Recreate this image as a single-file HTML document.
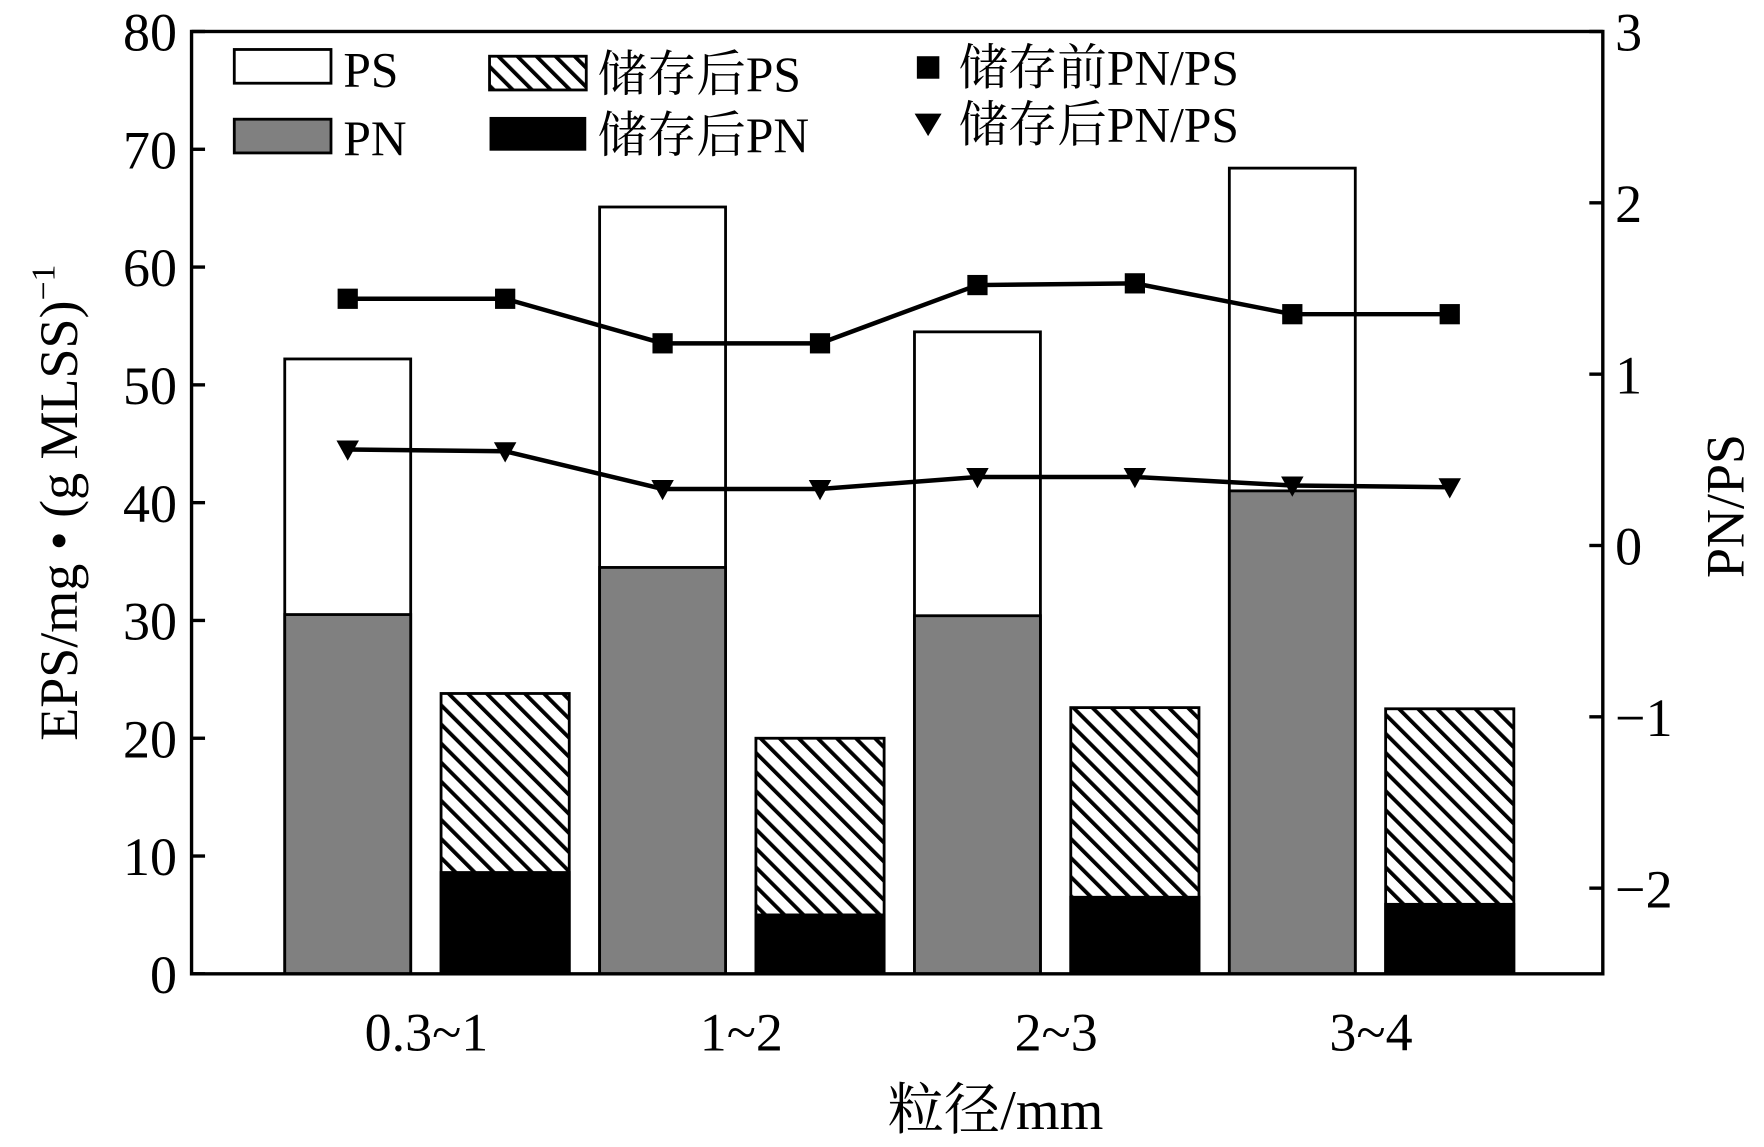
<!DOCTYPE html>
<html><head><meta charset="utf-8"><style>
html,body{margin:0;padding:0;background:#fff;}
svg{display:block;}
text{font-family:"Liberation Serif","Noto Serif CJK SC",serif;fill:#000;}
</style></head><body>
<svg id="chart" width="1764" height="1147" viewBox="0 0 1568 1020" xmlns="http://www.w3.org/2000/svg">
<defs>
<pattern id="hatch" patternUnits="userSpaceOnUse" width="12" height="12" patternTransform="rotate(-45)">
<rect width="12" height="12" fill="#fff"/><rect x="0" y="0" width="3.4" height="12" fill="#000"/>
</pattern>
</defs>
<g id="plot"></g>
</svg>
<script>
const categories = ["0.3~1","1~2","2~3","3~4"];
const psTotal = [52.2, 65.1, 54.5, 68.4];
const pnBefore = [30.5, 34.5, 30.4, 41.0];
const storedTotal = [23.8, 20.0, 22.6, 22.5];
const storedPN = [8.6, 5.0, 6.5, 5.9];
const ratioBefore = [1.44, 1.44, 1.18, 1.18, 1.52, 1.53, 1.35, 1.35];
const ratioAfter = [0.56, 0.55, 0.33, 0.33, 0.40, 0.40, 0.35, 0.34];
const leftTicks = [0,10,20,30,40,50,60,70,80];
const rightTicks = [-2,-1,0,1,2,3];

const NS="http://www.w3.org/2000/svg";
const g=document.getElementById('plot');
const L=170,R=1425,T=28,B=866;
const yL=v=>B-(v/80)*(B-T);
const yR=v=>B-((v+2.5)/5.5)*(B-T);
const cx=i=>L+(0.746+i)*280;
function el(t,a,p){const e=document.createElementNS(NS,t);for(const k in a)e.setAttribute(k,a[k]);(p||g).appendChild(e);return e;}

categories.forEach((c,i)=>{
  const x1=cx(i)-126,x2=cx(i)+13,w=112;
  let r=el('rect',{x:x1,y:yL(psTotal[i]),width:w,height:yL(0)-yL(psTotal[i]),fill:'#fff',stroke:'#000','stroke-width':2.5});
  
  
  r=el('rect',{x:x1,y:yL(pnBefore[i]),width:w,height:yL(0)-yL(pnBefore[i]),fill:'#808080',stroke:'#000','stroke-width':2.5});
  
  
  r=el('rect',{x:x2,y:yL(storedTotal[i]),width:w+2,height:yL(0)-yL(storedTotal[i]),fill:'url(#hatch)',stroke:'#000','stroke-width':2.5});
  
  
  r=el('rect',{x:x2,y:yL(storedPN[i]),width:w+2,height:yL(0)-yL(storedPN[i]),fill:'#000',stroke:'#000','stroke-width':2.5});
  
  
  const t=el('text',{x:cx(i),y:934,'font-size':48,'text-anchor':'middle'});t.textContent=c;
  
  
});
const px=j=>cx(Math.floor(j/2))-70+(j%2)*140;
let pl=el('polyline',{points:ratioBefore.map((v,j)=>px(j)+','+yR(v)).join(' '),fill:'none',stroke:'#000','stroke-width':4});


ratioBefore.forEach((v,j)=>{const m=el('rect',{x:px(j)-9,y:yR(v)-9,width:18,height:18,fill:'#000'});

});
pl=el('polyline',{points:ratioAfter.map((v,j)=>px(j)+','+yR(v)).join(' '),fill:'none',stroke:'#000','stroke-width':4});


ratioAfter.forEach((v,j)=>{const x=px(j),y=yR(v);const m=el('polygon',{points:`${x-10},${y-8} ${x+10},${y-8} ${x},${y+10}`,fill:'#000'});

});

let f=el('rect',{x:L,y:T,width:R-L,height:B-T,fill:'none',stroke:'#000','stroke-width':3});


leftTicks.forEach(v=>{el('line',{x1:L,x2:L+12,y1:yL(v),y2:yL(v),stroke:'#000','stroke-width':3});
const t=el('text',{x:157,y:yL(v)+17,'font-size':48,'text-anchor':'end'});t.textContent=v;

});
rightTicks.forEach(v=>{el('line',{x1:R-12,x2:R,y1:yR(v),y2:yR(v),stroke:'#000','stroke-width':3});
const t=el('text',{x:1436,y:yR(v)+17,'font-size':48});t.textContent=v<0?'\u2212'+(-v):v;

});
</script>
<svg style="position:absolute;left:0;top:0" width="1764" height="1147" viewBox="0 0 1568 1020" xmlns="http://www.w3.org/2000/svg">
<g font-size="44">
<rect x="208" y="44" width="86" height="30" fill="#fff" stroke="#000" stroke-width="2.5"/>
<text x="305" y="77">PS</text>
<rect x="208" y="106" width="86" height="30" fill="#808080" stroke="#000" stroke-width="2.5"/>
<text x="305" y="138">PN</text>
<rect x="435" y="50" width="86" height="30" fill="url(#hatch)" stroke="#000" stroke-width="2.5"/>
<text x="531" y="81">储存后PS</text>
<rect x="435" y="104" width="86" height="30" fill="#000"/>
<text x="531" y="135">储存后PN</text>
<rect x="815" y="50" width="20" height="20" fill="#000"/>
<text x="852" y="75">储存前PN/PS</text>
<polygon points="813,101 837,101 825,121" fill="#000"/>
<text x="852" y="126">储存后PN/PS</text>
</g>
<text x="885" y="1004" font-size="50" text-anchor="middle">粒径/mm</text>
<text transform="translate(68,447) rotate(-90)" font-size="48" text-anchor="middle">EPS/mg • (g MLSS)<tspan dy="-20" font-size="30">−1</tspan></text>
<text transform="translate(1550,450) rotate(-90)" font-size="48" text-anchor="middle">PN/PS</text>
</svg>
</body></html>
